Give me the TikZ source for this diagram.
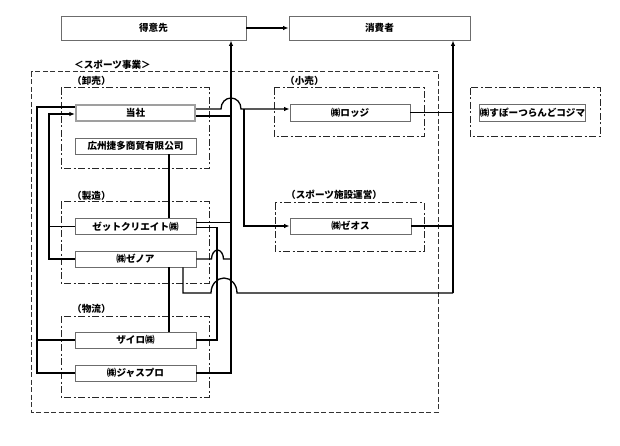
\documentclass[tikz,border=0pt]{standalone}
\usepackage{fontspec}
\setmainfont{Noto Sans CJK JP}
\usetikzlibrary{arrows.meta,calc}
\begin{document}
\begin{tikzpicture}[x=1pt,y=-1pt,
  box/.style={draw=gray!85!black, line width=0.9pt, fill=white, inner sep=0pt, font=\fontsize{9.6}{10}\selectfont\bfseries},
  mainbox/.style={box, draw=gray!75, line width=2.2pt},
  grp/.style={draw=black!85, line width=1pt, dash pattern=on 7pt off 2.5pt on 2pt off 2.5pt},
  outerbox/.style={draw=black!80, line width=1pt, dash pattern=on 5pt off 2.5pt},
  conn/.style={draw=black, line width=1.3pt},
  arr/.style={conn, -{Latex[length=5.5pt,width=4.5pt]}},
  lab/.style={anchor=west, inner sep=0pt, font=\fontsize{9.6}{10}\selectfont\bfseries}
]
\useasboundingbox (0,0) rectangle (620,446);

% groups
\draw[outerbox] (31,72) rectangle (438,412);
\draw[grp] (61,88) rectangle (209,169);
\draw[grp] (61,202) rectangle (209,283);
\draw[grp] (61,316) rectangle (209,397);
\draw[grp] (274,88) rectangle (424,137);
\draw[grp] (275,203) rectangle (424,251);
\draw[grp] (470,88) rectangle (600,137);

% labels
\node[lab] (l0) at (74,65) {＜スポーツ事業＞};
\node[lab] (l1) at (72,81) {（卸売）};
\node[lab] (l2) at (72,196) {（製造）};
\node[lab] (l3) at (72,309) {（物流）};
\node[lab] (l4) at (285,81) {（小売）};
\node[lab] (l5) at (286,195) {（スポーツ施設運営）};

% boxes
\node[box, minimum width=185pt, minimum height=24pt] (tokui) at (153.5,28) {得意先};
\node[box, minimum width=181pt, minimum height=24pt] (shohi) at (379.5,28) {消費者};
\node[mainbox, minimum width=119pt, minimum height=16pt] (tosha) at (135.5,113) {当社};
\node[box, minimum width=121pt, minimum height=16pt] (koshu) at (135.5,146) {広州捷多商貿有限公司};
\node[box, minimum width=121pt, minimum height=16pt] (zett) at (135.5,226.5) {ゼットクリエイト㈱};
\node[box, minimum width=121pt, minimum height=16pt] (zenoa) at (135.5,259) {㈱ゼノア};
\node[box, minimum width=121pt, minimum height=16pt] (zairo) at (135.5,340) {ザイロ㈱};
\node[box, minimum width=121pt, minimum height=16pt] (jaspro) at (135.5,373) {㈱ジャスプロ};
\node[box, minimum width=120pt, minimum height=17pt] (lodge) at (350,112.5) {㈱ロッジ};
\node[box, minimum width=121pt, minimum height=16pt] (zeos) at (350.5,226) {㈱ゼオス};
\node[box, minimum width=97pt, minimum height=17pt] (kojima) at (532.5,112.5) {㈱すぽーつらんどコジマ};

% top arrow
\draw[arr] (tokui.east) -- (shohi.west);

% main vertical to 得意先
\coordinate (vA) at (231,373);
\draw[arr] (jaspro.east) -- (vA) -- (vA |- tokui.south);
\coordinate (t2) at ($(tosha.east)+(0,3)$);
\draw[conn] (t2) -- (t2 -| vA);

% 当社 upper line with hop, to ロッジ
\coordinate (t1) at ($(tosha.east)+(0,-4)$);
\coordinate (b1) at (244,109);
\draw[arr] (t1) -- (221,109) .. controls (221,102.5) and (225.5,98) .. (231,98)
  .. controls (236.5,98) and (241,102.5) .. (241,109) -- (b1) -- (lodge.west |- t1);
\draw[arr] (b1) |- (zeos.west);

% right vertical to 消費者
\coordinate (vB) at (453,293);
\draw[arr] (vB) -- (vB |- shohi.south);
\draw[conn] (lodge.east) -- (lodge.east -| vB);
\draw[conn] (zeos.east) -- (zeos.east -| vB);

% ゼノア bottom line with big hop
\coordinate (z1) at (183,293);
\draw[conn] (zenoa.south -| z1) -- (z1) -- (211,293)
  .. controls (211,284.7) and (216.8,278) .. (224,278)
  .. controls (231.2,278) and (237,284.7) .. (237,293) -- (vB);

% ゼット lines
\coordinate (zu) at ($(zett.east)+(0,-4)$);
\draw[conn] (zu) -- (zu -| vA);
\coordinate (zl) at ($(zett.east)+(0,1)$);
\coordinate (vC) at (217,228);
\draw[conn] (zl) -- (zl -| vC) -- (vC |- zairo.east) -- (zairo.east);

% ゼノア right line with hop
\draw[conn] (zenoa.east) -- (211.5,259) .. controls (211.5,254) and (214.5,250) .. (217.5,250)
  .. controls (220.5,250) and (223.5,254) .. (223.5,259) -- (zenoa.east -| vA);

% vertical links
\draw[conn] (koshu.south -| 169,0) -- (zett.north -| 169,0);
\draw[conn] (zenoa.south -| 169,0) -- (zairo.north -| 169,0);

% left outer line
\coordinate (o1) at ($(tosha.west)+(0,-6)$);
\coordinate (vD) at (37,373);
\draw[conn] (jaspro.west) -- (vD) -- (vD |- o1) -- (o1);
\draw[conn] (zairo.west) -- (zairo.west -| vD);

% left inner line
\coordinate (i1) at ($(tosha.west)+(0,1)$);
\coordinate (vE) at (49,259);
\draw[arr] (zenoa.west) -- (vE) -- (vE |- i1) -- (i1);
\draw[conn] (zett.west) -- (zett.west -| vE);
\end{tikzpicture}
\end{document}
